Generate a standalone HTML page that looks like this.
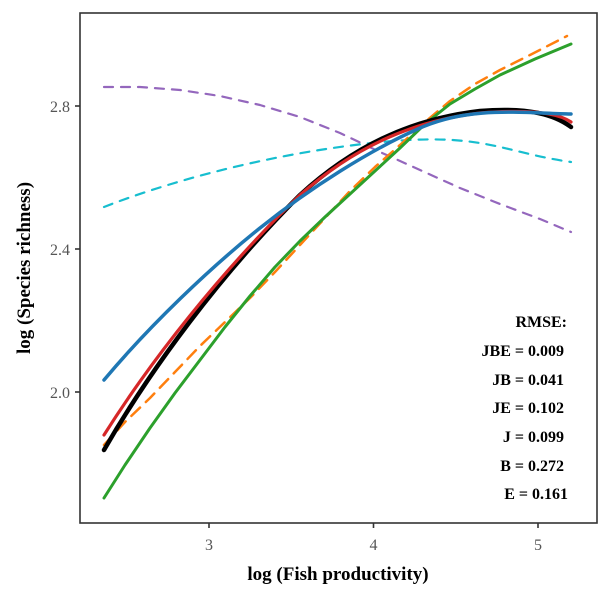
<!DOCTYPE html>
<html><head><meta charset="utf-8"><style>body{margin:0;background:#fff}svg{display:block}</style></head><body>
<svg width="600" height="596" viewBox="0 0 600 596" xmlns="http://www.w3.org/2000/svg" font-family="Liberation Serif, serif">
<rect x="80" y="13" width="517" height="510" fill="none" stroke="#333" stroke-width="1.6"/>
<g stroke="#333" stroke-width="1.6">
<line x1="75" y1="106" x2="80" y2="106"/><line x1="75" y1="249" x2="80" y2="249"/><line x1="75" y1="392" x2="80" y2="392"/>
<line x1="209" y1="523" x2="209" y2="528"/><line x1="373.5" y1="523" x2="373.5" y2="528"/><line x1="538" y1="523" x2="538" y2="528"/>
</g>
<g fill="#555" font-size="16" text-anchor="end"><text x="70" y="112">2.8</text><text x="70" y="255">2.4</text><text x="70" y="398">2.0</text></g>
<g fill="#555" font-size="16" text-anchor="middle"><text x="209" y="550">3</text><text x="373.5" y="550">4</text><text x="538" y="550">5</text></g>
<text x="338" y="580" font-size="19" font-weight="bold" text-anchor="middle">log (Fish productivity)</text>
<text transform="translate(30,268) rotate(-90)" font-size="19" font-weight="bold" text-anchor="middle">log (Species richness)</text>
<g fill="none" stroke-width="2.2" stroke-linecap="round" stroke-linejoin="round">
<polyline points="104,87 140,87 180,90 220,96 260,105 300,117 340,133 380,152 420,170 460,188 500,204 540,219 571,232" stroke="#9467bd" stroke-dasharray="9,8"/>
<path d="M104,207 C160,185 260,155 372,143 S500,152 571,162" stroke="#17becf" stroke-dasharray="9,8"/>
<polyline points="104,445 125,422 150,398 175,372 200,346 225,322 250,298 275,272 300,245 325,218 350,191 375,167 400,145 425,122 450,101 475,84 500,70 530,55 567,36" stroke="#ff7f0e" stroke-dasharray="12,8" stroke-width="2.5"/>
<polyline points="104,498 125,465 150,428 175,393 200,360 225,327 250,296 275,267 300,241 325,217 350,194 375,171 400,148 425,124 450,104 475,89 500,75 535,59 571,44" stroke="#2ca02c" stroke-width="3"/>
<path d="M104,450 C150,370 220,275 300,195 C360,140 420,118 480,111 C530,107 555,115 571,127" stroke="#000" stroke-width="4.5"/>
<path d="M104,435 C150,362 220,272 300,195 C360,142 420,120 480,113 C530,109 558,113 571,122" stroke="#d62728" stroke-width="3.2"/>
<path d="M104,380 C150,325 210,268 260,228 S370,150 420,128 S520,113 571,114" stroke="#1f77b4" stroke-width="3.5"/>
</g>
<g font-size="16" font-weight="bold" text-anchor="end" fill="#000">
<text x="567" y="327">RMSE:</text>
<text x="564" y="356">JBE = 0.009</text>
<text x="564" y="385">JB = 0.041</text>
<text x="564" y="413">JE = 0.102</text>
<text x="564" y="442">J = 0.099</text>
<text x="564" y="471">B = 0.272</text>
<text x="568" y="499">E = 0.161</text>
</g>
</svg>
</body></html>
